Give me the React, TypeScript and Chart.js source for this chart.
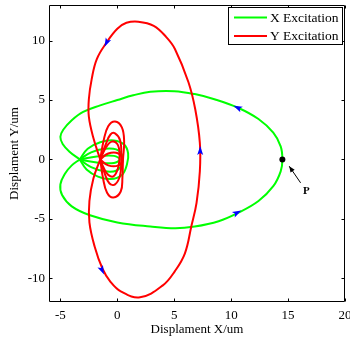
import { useEffect, useRef } from "react";
import { Chart, registerables } from "chart.js";

Chart.register(...registerables);

// ---- data ----
const xTicks = [-5, 0, 5, 10, 15, 20];
const yTicks = [-10, -5, 0, 5, 10];
const seriesNames = ["X Excitation", "Y Excitation"];
const xTitle = "Displament X/um";
const yTitle = "Displament Y/um";

// X excitation (green): big limit cycle through the cusp
const greenLoop: [number, number][] = [
  [-3.3, 0], [-4.0, -0.5], [-4.6, -1.2], [-5.0, -2.1], [-4.85, -3.0], [-4.0, -3.95],
  [-2.4, -4.7], [0.0, -5.3], [2.9, -5.65], [5.1, -5.8], [6.8, -5.65], [8.9, -5.2],
  [10.6, -4.5], [12.4, -3.5], [13.7, -2.25], [14.35, -1.0], [14.5, 0], [14.35, 1.1],
  [13.7, 2.25], [12.4, 3.4], [10.6, 4.35], [8.6, 5.05], [6.8, 5.5], [5.0, 5.75],
  [2.9, 5.7], [1.4, 5.4], [0.0, 5.0], [-1.5, 4.55], [-3.0, 4.0], [-4.0, 3.3],
  [-4.75, 2.5], [-5.0, 1.9], [-4.8, 1.3], [-4.2, 0.65], [-3.3, 0],
];
// green transient loops near the origin
const greenPetalOuter: [number, number][] = [
  [-3.3, 0], [-2.6, 0.9], [-1.5, 1.45], [-0.3, 1.6], [0.6, 1.25], [0.95, 0.5],
  [0.85, -0.4], [0.4, -1.3], [-0.6, -1.65], [-1.7, -1.45], [-2.7, -0.85], [-3.3, 0],
];
const greenPetalMid: [number, number][] = [
  [-3.3, 0], [-2.3, 0.6], [-1.1, 0.9], [-0.1, 0.85], [0.4, 0.4], [0.4, -0.4],
  [-0.1, -0.95], [-1.1, -1.0], [-2.3, -0.65], [-3.3, 0],
];
const greenPetalFlat: [number, number][] = [
  [-3.3, 0], [-1.8, 0.25], [-0.3, 0.3], [0.2, 0], [-0.3, -0.3], [-1.8, -0.25], [-3.3, 0],
];

// Y excitation (red): big limit cycle through the cusp
const redLoop: [number, number][] = [
  [-1.5, 0], [-2.1, -1.6], [-2.45, -3.5], [-2.45, -5.3], [-2.0, -7.3], [-1.3, -9.2],
  [-0.6, -10.3], [0.3, -11.1], [2.0, -11.6], [4.0, -10.6], [5.06, -9.4], [5.94, -7.9],
  [6.5, -5.64], [6.96, -3.66], [7.25, -1.0], [7.25, 1.4], [6.85, 4.2], [6.25, 6.5],
  [5.06, 9.3], [4.3, 10.3], [3.2, 11.25], [1.84, 11.6], [0.8, 11.5], [0.0, 11.0],
  [-0.93, 9.86], [-1.8, 8.45], [-2.25, 6.76], [-2.5, 5.07], [-2.5, 3.6], [-2.1, 1.8],
  [-1.5, 0],
];
// red transient loops near the origin
const redPetalOuter: [number, number][] = [
  [-1.5, 0], [-1.2, 1.6], [-0.8, 2.8], [-0.2, 3.2], [0.4, 2.7], [0.6, 1.5], [0.5, 0],
  [0.45, -1.5], [0.3, -2.7], [-0.35, -3.2], [-0.9, -2.8], [-1.25, -1.6], [-1.5, 0],
];
const redPetalMid: [number, number][] = [
  [-1.5, 0], [-1.0, 1.3], [-0.6, 2.1], [-0.2, 2.2], [0.25, 1.6], [0.35, 0.3],
  [0.25, -1.3], [-0.2, -2.1], [-0.7, -2.0], [-1.1, -1.2], [-1.5, 0],
];
const redPetalInner: [number, number][] = [
  [-1.5, 0], [-1.0, 1.0], [-0.5, 1.5], [0.0, 1.3], [0.2, 0.5], [0.1, -0.6],
  [-0.3, -1.4], [-0.8, -1.3], [-1.2, -0.7], [-1.5, 0],
];
const redPetalFlat: [number, number][] = [
  [-1.5, 0], [-0.8, 0.5], [0.1, 0.5], [0.4, 0], [0.1, -0.5], [-0.8, -0.5], [-1.5, 0],
];

// direction arrows: [x, y, dx, dy]
const flowArrows: [number, number, number, number][] = [
  [10.6, 4.35, -1, 0.45],
  [10.5, -4.5, 1, 0.5],
  [7.28, 0.7, 0, 1],
  [-0.93, 9.86, -0.5, -1],
  [-1.35, -9.3, 0.5, -1],
];
const pointP: [number, number] = [14.5, 0];
const pArrowTail: [number, number] = [16.1, -1.97];
const pArrowTip: [number, number] = [15.1, -0.57];
const pLabelPos: [number, number] = [16.6, -2.7];
const pLabel = "P";

const GREEN = "rgb(0,255,0)";
const RED = "rgb(255,0,0)";
const SERIF = "'Liberation Serif', 'Times New Roman', serif";

const toXY = (arr: [number, number][]) => arr.map(([x, y]) => ({ x, y }));

const decorPlugin = {
  id: "decor",
  afterDatasetsDraw(chart: any) {
    const { ctx, chartArea: a, scales } = chart;
    const sx = scales.x;
    const sy = scales.y;
    ctx.save();
    // flow arrows
    ctx.fillStyle = "rgb(0,0,255)";
    flowArrows.forEach(([ax, ay, dx, dy]) => {
      const px = sx.getPixelForValue(ax);
      const py = sy.getPixelForValue(ay);
      const vx = sx.getPixelForValue(ax + dx) - sx.getPixelForValue(ax);
      const vy = sy.getPixelForValue(ay + dy) - sy.getPixelForValue(ay);
      const len = Math.hypot(vx, vy) || 1;
      const ux = vx / len, uy = vy / len;
      const nx = -uy, ny = ux;
      ctx.beginPath();
      ctx.moveTo(px + ux * 5, py + uy * 5);
      ctx.lineTo(px - ux * 4 + nx * 3, py - uy * 4 + ny * 3);
      ctx.lineTo(px - ux * 2, py - uy * 2);
      ctx.lineTo(px - ux * 4 - nx * 3, py - uy * 4 - ny * 3);
      ctx.closePath();
      ctx.fill();
    });
    // point P
    ctx.fillStyle = "#000";
    ctx.beginPath();
    ctx.arc(sx.getPixelForValue(pointP[0]), sy.getPixelForValue(pointP[1]), 3, 0, Math.PI * 2);
    ctx.fill();
    // annotation arrow
    const tx = sx.getPixelForValue(pArrowTail[0]);
    const ty = sy.getPixelForValue(pArrowTail[1]);
    const hx = sx.getPixelForValue(pArrowTip[0]);
    const hy = sy.getPixelForValue(pArrowTip[1]);
    ctx.strokeStyle = "#000";
    ctx.lineWidth = 1;
    ctx.beginPath();
    ctx.moveTo(tx, ty);
    ctx.lineTo(hx, hy);
    ctx.stroke();
    const L = Math.hypot(hx - tx, hy - ty) || 1;
    const ux = (hx - tx) / L, uy = (hy - ty) / L;
    ctx.beginPath();
    ctx.moveTo(hx, hy);
    ctx.lineTo(hx - ux * 6 - uy * 2.5, hy - uy * 6 + ux * 2.5);
    ctx.lineTo(hx - ux * 6 + uy * 2.5, hy - uy * 6 - ux * 2.5);
    ctx.closePath();
    ctx.fill();
    ctx.font = `bold 11px ${SERIF}`;
    ctx.textAlign = "center";
    ctx.textBaseline = "middle";
    ctx.fillText(pLabel, sx.getPixelForValue(pLabelPos[0]), sy.getPixelForValue(pLabelPos[1]));

    // axes box + inward ticks
    ctx.strokeStyle = "#000";
    ctx.lineWidth = 1;
    const L0 = Math.round(a.left) + 0.5;
    const R0 = Math.round(a.right) - 0.5;
    const T0 = Math.round(a.top) + 0.5;
    const B0 = Math.round(a.bottom) - 0.5;
    ctx.beginPath();
    ctx.rect(L0, T0, R0 - L0, B0 - T0);
    xTicks.forEach((v) => {
      const p = Math.round(sx.getPixelForValue(v)) + 0.5;
      ctx.moveTo(p, B0); ctx.lineTo(p, B0 - 3);
      ctx.moveTo(p, T0); ctx.lineTo(p, T0 + 3);
    });
    yTicks.forEach((v) => {
      const p = Math.round(sy.getPixelForValue(v)) + 0.5;
      ctx.moveTo(L0, p); ctx.lineTo(L0 + 3, p);
      ctx.moveTo(R0, p); ctx.lineTo(R0 - 3, p);
    });
    ctx.stroke();

    // legend
    const lx = 228, ly = 7, lw = 115, lh = 38;
    ctx.fillStyle = "#fff";
    ctx.fillRect(lx, ly, lw, lh);
    ctx.strokeRect(lx + 0.5, ly + 0.5, lw - 1, lh - 1);
    const colors = [GREEN, RED];
    seriesNames.forEach((name, i) => {
      const rowY = ly + 10.5 + i * 18.5;
      ctx.strokeStyle = colors[i];
      ctx.lineWidth = 2;
      ctx.beginPath();
      ctx.moveTo(lx + 6, rowY);
      ctx.lineTo(lx + 39, rowY);
      ctx.stroke();
      ctx.fillStyle = "#000";
      ctx.font = `13.5px ${SERIF}`;
      ctx.textAlign = "left";
      ctx.textBaseline = "middle";
      ctx.fillText(name, lx + 42, rowY + 0.5);
    });
    ctx.restore();
  },
};

export default function App() {
  const ref = useRef<HTMLCanvasElement | null>(null);
  useEffect(() => {
    if (!ref.current) return;
    const line = (data: [number, number][], color: string, order: number) => ({
      data: toXY(data),
      showLine: true,
      borderColor: color,
      backgroundColor: color,
      borderWidth: 2,
      pointRadius: 0,
      tension: 0.4,
      fill: false,
      order,
    });
    const chart = new Chart(ref.current, {
      type: "scatter",
      data: {
        datasets: [
          line(redLoop, RED, 1),
          line(redPetalOuter, RED, 1),
          line(redPetalMid, RED, 1),
          line(redPetalInner, RED, 1),
          line(redPetalFlat, RED, 1),
          line(greenLoop, GREEN, 2),
          line(greenPetalOuter, GREEN, 2),
          line(greenPetalMid, GREEN, 2),
          line(greenPetalFlat, GREEN, 2),
        ] as any,
      },
      options: {
        animation: false,
        responsive: false,
        layout: { padding: { top: 5, right: 5, left: 0, bottom: 0 } },
        plugins: { legend: { display: false }, tooltip: { enabled: false } },
        scales: {
          x: {
            type: "linear",
            min: -6,
            max: 20,
            grid: { display: false, drawTicks: false },
            border: { display: false },
            afterBuildTicks: (s: any) => { s.ticks = xTicks.map((v) => ({ value: v })); },
            afterFit: (s: any) => { s.height = 39; s.paddingLeft = 0; s.paddingRight = 0; },
            ticks: {
              color: "#000",
              font: { family: SERIF, size: 13 },
              padding: 6,
              maxRotation: 0,
              autoSkip: false,
            },
            title: {
              display: true,
              text: xTitle,
              color: "#000",
              font: { family: SERIF, size: 13 },
              padding: { top: 0, bottom: 4 },
            },
          },
          y: {
            type: "linear",
            min: -12,
            max: 13,
            grid: { display: false, drawTicks: false },
            border: { display: false },
            afterBuildTicks: (s: any) => { s.ticks = yTicks.map((v) => ({ value: v })); },
            afterFit: (s: any) => { s.width = 49; s.paddingTop = 0; s.paddingBottom = 0; },
            ticks: {
              color: "#000",
              font: { family: SERIF, size: 13 },
              padding: 4,
              autoSkip: false,
            },
            title: {
              display: true,
              text: yTitle,
              color: "#000",
              font: { family: SERIF, size: 13 },
              padding: { top: 7, bottom: 0 },
            },
          },
        },
      },
      plugins: [decorPlugin],
    });
    return () => chart.destroy();
  }, []);
  return (
    <div style={{ position: "absolute", left: 0, top: 0, width: 350, height: 341, background: "#fff" }}>
      <canvas ref={ref} width={350} height={341} style={{ width: 350, height: 341, display: "block" }} />
    </div>
  );
}
